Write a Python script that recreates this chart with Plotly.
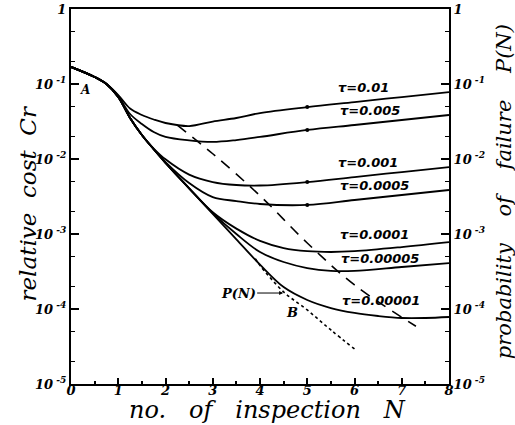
import plotly.graph_objects as go

# ---------------- data ----------------
N_a = [0, 0.5, 0.75, 1.0, 1.25, 1.5, 1.75, 2.0, 2.5, 3.0, 3.5, 4.0, 5.0, 6.0, 7.0, 8.0]
Cr_tau_0_01 = [0.169, 0.124, 0.100, 0.0713, 0.0471, 0.0386, 0.0336, 0.0302, 0.0275, 0.0316, 0.0352, 0.041,
               0.0493, 0.0575, 0.067, 0.078]
Cr_tau_0_005 = [0.169, 0.124, 0.100, 0.069, 0.0398, 0.0293, 0.0229, 0.0197, 0.0177, 0.0169, 0.0179, 0.0197,
                0.0244, 0.0284, 0.0331, 0.0386]
Cr_tau_0_001 = [0.169, 0.124, 0.100, 0.0671, 0.0352, 0.0209, 0.0138, 0.0099, 0.0062, 0.00493, 0.0045, 0.00443,
                0.00493, 0.00575, 0.0067, 0.0078]
Cr_tau_0_0005 = [0.169, 0.124, 0.100, 0.0671, 0.0352, 0.0209, 0.0135, 0.0091, 0.00479, 0.00311, 0.00275, 0.00251,
                 0.00244, 0.00284, 0.00331, 0.00386]

N_b = [0, 0.5, 0.75, 1.0, 1.25, 1.5, 1.75, 2.0, 2.5, 3.0, 3.5, 4.0, 4.5, 5.0, 5.5, 6.0, 7.0, 8.0]
Cr_tau_0_0001 = [0.169, 0.124, 0.100, 0.0671, 0.0352, 0.0209, 0.0135, 0.0089, 0.00407, 0.00195, 0.00118, 0.00081,
                 0.00065, 0.00059, 0.000575, 0.00059, 0.00067, 0.00078]
Cr_tau_0_00005 = [0.169, 0.124, 0.100, 0.0671, 0.0352, 0.0209, 0.0135, 0.0089, 0.00407, 0.0019, 0.0010, 0.000575,
                  0.000423, 0.000352, 0.000323, 0.000323, 0.000363, 0.00041]

N_c = [0, 0.5, 0.75, 1.0, 1.25, 1.5, 1.75, 2.0, 2.5, 3.0, 3.5, 4.0, 4.5, 5.0, 5.5, 6.0, 6.5, 7.0, 7.5, 8.0]
Cr_tau_0_00001 = [0.169, 0.124, 0.100, 0.0671, 0.0352, 0.0209, 0.0135, 0.0089, 0.00407, 0.00186, 0.00085, 0.00039,
                  0.000196, 0.000132, 0.000103, 0.0000885, 0.0000807, 0.0000759, 0.0000759, 0.0000782]

N_P = [3.9, 4.0, 4.5, 5.0, 5.5, 6.0]
P_N = [0.000468, 0.00038, 0.000169, 0.000097, 0.0000525, 0.0000293]

N_opt = [2.25, 3.0, 4.0, 5.0, 6.0, 7.3]
Cr_opt = [0.0282, 0.01175, 0.00324, 0.000759, 0.000209, 0.0000589]

tau_labels = ["τ=0.01", "τ=0.005", "τ=0.001", "τ=0.0005", "τ=0.0001", "τ=0.00005", "τ=0.00001"]
x_ticks = [0, 1, 2, 3, 4, 5, 6, 7, 8]
y_ticks = [1e-5, 1e-4, 1e-3, 1e-2, 1e-1, 1]
y_ticktext = ["10<sup> -5</sup>", "10<sup> -4</sup>", "10<sup> -3</sup>", "10<sup> -2</sup>", "10<sup> -1</sup>", "1"]

# ---------------- figure ----------------
SERIF = "DejaVu Serif"
fig = go.Figure()

series = [
    (N_a, Cr_tau_0_01), (N_a, Cr_tau_0_005), (N_a, Cr_tau_0_001), (N_a, Cr_tau_0_0005),
    (N_b, Cr_tau_0_0001), (N_b, Cr_tau_0_00005), (N_c, Cr_tau_0_00001),
]
for xs, ys in series:
    fig.add_trace(go.Scatter(x=xs, y=ys, mode="lines", line=dict(color="black", width=1.8, shape="spline"),
                             showlegend=False, hoverinfo="skip"))

# dots at N=5 on upper curves
for xs, ys in series[:4]:
    i = xs.index(5.0)
    fig.add_trace(go.Scatter(x=[xs[i]], y=[ys[i]], mode="markers", marker=dict(color="black", size=4),
                             showlegend=False, hoverinfo="skip"))

fig.add_trace(go.Scatter(x=N_opt, y=Cr_opt, mode="lines",
                         line=dict(color="black", width=1.6, dash="11px,8px", shape="spline"),
                         showlegend=False, hoverinfo="skip"))
fig.add_trace(go.Scatter(x=N_P, y=P_N, mode="lines",
                         line=dict(color="black", width=1.6, dash="3px,3px", shape="spline"),
                         showlegend=False, hoverinfo="skip"))
# invisible trace for right axis
fig.add_trace(go.Scatter(x=[0], y=[1e-3], yaxis="y2", mode="markers", marker=dict(opacity=0),
                         showlegend=False, hoverinfo="skip"))

label_pos = [(6.18, -1.04), (6.33, -1.347), (6.29, -2.053), (6.43, -2.347),
             (6.43, -3.013), (6.54, -3.32), (6.56, -3.88)]
anns = []
for t, (lx, ly) in zip(tau_labels, label_pos):
    anns.append(dict(x=lx, y=ly, xref="x", yref="y", text=t, showarrow=False,
                     font=dict(family="DejaVu Sans", size=13, color="black", weight="bold", style="italic")))
anns.append(dict(x=4.49, y=-3.787, xref="x", yref="y", text="P(N)", showarrow=True, ax=-45, ay=0,
                 arrowhead=2, arrowsize=0.8, arrowwidth=1, arrowcolor="black",
                 font=dict(family=SERIF, size=13, color="black", weight="bold", style="italic")))
anns.append(dict(x=4.68, y=-4.053, xref="x", yref="y", text="B", showarrow=False,
                 font=dict(family=SERIF, size=13, color="black", weight="bold", style="italic")))
anns.append(dict(x=0.30, y=-1.08, xref="x", yref="y", text="A", showarrow=False,
                 font=dict(family=SERIF, size=12, color="black", weight="bold", style="italic")))
# axis titles
anns.append(dict(x=-0.114, y=0.481, xref="paper", yref="paper", text="relative  cost  Cr", textangle=-90,
                 showarrow=False, xanchor="center", yanchor="middle",
                 font=dict(family=SERIF, size=23, color="black", style="italic")))
anns.append(dict(x=1.146, y=0.512, xref="paper", yref="paper", text="probability    of    failure    P(N)",
                 textangle=-90, showarrow=False, xanchor="center", yanchor="middle",
                 font=dict(family=SERIF, size=21, color="black", style="italic")))
anns.append(dict(x=0.521, y=-0.068, xref="paper", yref="paper", text="no.   of   inspection   N",
                 showarrow=False, xanchor="center", yanchor="middle",
                 font=dict(family=SERIF, size=24, color="black", style="italic")))

tickfont = dict(family=SERIF, size=13, color="black", weight="bold", style="italic")
yaxis_common = dict(type="log", range=[-5, 0], tickvals=y_ticks, ticktext=y_ticktext, ticks="inside",
                    ticklen=8, tickwidth=1.5, tickcolor="black", showline=True, linecolor="black", linewidth=2,
                    showgrid=False, zeroline=False, tickfont=tickfont, automargin=False,
                    minor=dict(ticks="inside", ticklen=4, tickwidth=1, tickcolor="black", showgrid=False))

fig.update_layout(
    width=515, height=425,
    margin=dict(l=71, r=66, t=9, b=41),
    paper_bgcolor="white", plot_bgcolor="white",
    xaxis=dict(range=[0, 8], tickvals=x_ticks, ticks="inside", ticklen=6, tickwidth=1.5, tickcolor="black",
               showline=True, linecolor="black", linewidth=2, mirror=True, showgrid=False, zeroline=False,
               tickfont=tickfont, automargin=False, ticklabelstandoff=-7,
               minor=dict(ticks="inside", dtick=0.5, ticklen=3, tickcolor="black", showgrid=False)),
    yaxis=yaxis_common,
    yaxis2=dict(yaxis_common, overlaying="y", side="right"),
    annotations=anns,
)

fig.write_html("out.html", config={"displayModeBar": False},
               post_script="document.body.style.margin='0px';")
